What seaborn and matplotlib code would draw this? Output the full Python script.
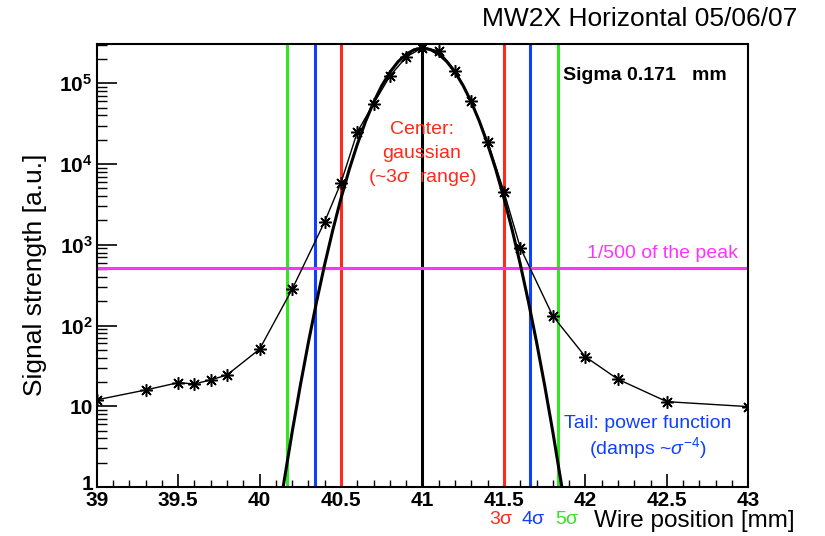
import matplotlib
matplotlib.use("Agg")
import matplotlib.pyplot as plt
import seaborn as sns
from matplotlib.ticker import FixedLocator, MultipleLocator, LogLocator, NullFormatter

# ---------------- data ----------------
wire_pos = [39.0, 39.3, 39.5, 39.6, 39.7, 39.8, 40.0, 40.2, 40.4, 40.5, 40.6, 40.7,
            40.8, 40.9, 41.0, 41.1, 41.2, 41.3, 41.4, 41.5, 41.6, 41.8, 42.0, 42.2,
            42.5, 43.0]
signal = [12.0, 15.9, 19.6, 18.9, 21.2, 24.4, 51, 282, 1940, 5900, 25000, 56000,
          123000, 212000, 276000, 253000, 143000, 59600, 19000, 4550, 925, 131, 41,
          21.6, 11.4, 9.9]

fit_pos = [40.13, 40.15, 40.20, 40.25, 40.30, 40.35, 40.40, 40.45, 40.50, 40.55,
           40.60, 40.65, 40.70, 40.75, 40.80, 40.85, 40.90, 40.95, 41.00, 41.05,
           41.10, 41.15, 41.20, 41.25, 41.30, 41.35, 41.40, 41.45, 41.50, 41.55,
           41.60, 41.65, 41.70, 41.75, 41.80, 41.85, 41.87]
fit_signal = [0.65, 1.17, 4.81, 18.1, 62.5, 198, 577, 1540, 3780, 8530,
              17600, 33500, 58300, 93300, 137000, 185000, 229000, 261000, 272000, 261000,
              229000, 185000, 137000, 93300, 58300, 33500, 17600, 8530, 3780, 1540,
              577, 198, 62.5, 18.1, 4.81, 1.17, 0.65]

center_pos = 41.0
sigma3_pos = [40.50, 41.50]
sigma4_pos = [40.34, 41.66]
sigma5_pos = [40.17, 41.83]
peak_fraction_level = 520

x_ticks = [39, 39.5, 40, 40.5, 41, 41.5, 42, 42.5, 43]
x_tick_labels = ["39", "39.5", "40", "40.5", "41", "41.5", "42", "42.5", "43"]
y_ticks = [1, 10, 100, 1000, 10000, 100000]
y_tick_labels = ["", "10", r"$\mathbf{10^{2}}$", r"$\mathbf{10^{3}}$",
                 r"$\mathbf{10^{4}}$", r"$\mathbf{10^{5}}$"]
y_bottom_label = "1"

# ---------------- style ----------------
sns.set_theme(style="ticks")
plt.rcParams["font.family"] = ["Liberation Sans", "DejaVu Sans"]
plt.rcParams["mathtext.fontset"] = "custom"
plt.rcParams["mathtext.rm"] = "Liberation Sans"
plt.rcParams["mathtext.it"] = "Liberation Sans:italic"
plt.rcParams["mathtext.bf"] = "Liberation Sans:bold"
plt.rcParams["text.color"] = "black"
plt.rcParams["axes.labelcolor"] = "black"
plt.rcParams["xtick.color"] = "black"
plt.rcParams["ytick.color"] = "black"
plt.rcParams["axes.edgecolor"] = "black"

RED = "#ff2a1a"
BLUE = "#1040ff"
GREEN = "#33e622"
MAGENTA = "#ff33ff"

W, H = 825, 536
fig = plt.figure(figsize=(W / 100, H / 100), dpi=100)
ax = fig.add_axes([96.7 / W, 1 - 487 / H, (748.3 - 96.7) / W, (487 - 44.3) / H])
ax.set_yscale("log")

# reference lines
for xv in sigma5_pos:
    ax.axvline(xv, color=GREEN, lw=2.2, zorder=1)
for xv in sigma4_pos:
    ax.axvline(xv, color=BLUE, lw=2.2, zorder=1)
for xv in sigma3_pos:
    ax.axvline(xv, color=RED, lw=2.2, zorder=1)
ax.axvline(center_pos, color="black", lw=2.2, zorder=1)
ax.axhline(peak_fraction_level, color=MAGENTA, lw=2.2, zorder=1)

# fit and data
sns.lineplot(x=fit_pos, y=fit_signal, ax=ax, color="black", linewidth=2.2,
             errorbar=None, zorder=3)
sns.lineplot(x=wire_pos, y=signal, ax=ax, color="black", linewidth=1.0,
             marker=(8, 2, 0), markersize=9, markeredgecolor="black",
             markeredgewidth=1.1, errorbar=None, zorder=4)

ax.set_xlim(39, 43)
ax.set_ylim(1, 3.04e5)

ax.xaxis.set_major_locator(FixedLocator(x_ticks))
ax.set_xticklabels(x_tick_labels)
ax.xaxis.set_minor_locator(MultipleLocator(0.1))
ax.yaxis.set_major_locator(FixedLocator(y_ticks))
ax.set_yticklabels(y_tick_labels)
ax.yaxis.set_minor_locator(LogLocator(base=10, subs=range(2, 10), numticks=20))
ax.yaxis.set_minor_formatter(NullFormatter())

ax.tick_params(which="both", direction="in", top=False, right=False, color="black")
ax.tick_params(axis="y", which="major", length=14.4, width=1.2, labelsize=15, pad=3)
ax.tick_params(axis="y", which="minor", length=7.2, width=1.0)
ax.tick_params(axis="x", which="major", length=9.5, width=1.2, labelsize=15, pad=3)
ax.tick_params(axis="x", which="minor", length=5.0, width=1.0)
for lbl in ax.get_xticklabels() + ax.get_yticklabels():
    lbl.set_fontweight("bold")
    lbl.set_color("black")

for sp in ax.spines.values():
    sp.set_linewidth(1.5)
    sp.set_color("black")
ax.set_xlabel("")
ax.set_ylabel("")
ax.grid(False)


def fx(x):
    return x / W


def fy(y):
    return 1 - y / H


# bottom "1" label of the y axis, lifted a little so it does not sit on "39"
fig.text(fx(93), fy(484), y_bottom_label, ha="right", va="center", fontsize=15,
         fontweight="bold")

fig.text(fx(797), fy(19), "MW2X Horizontal 05/06/07", ha="right", va="center", fontsize=19)
fig.text(fx(35), fy(275), "Signal strength [a.u.]", rotation=90, ha="center", va="center",
         fontsize=19)
fig.text(fx(795), fy(521), "Wire position [mm]", ha="right", va="center", fontsize=17.5)
fig.text(fx(501), fy(520), "3σ", ha="center", va="center", fontsize=14, color=RED)
fig.text(fx(533), fy(520), "4σ", ha="center", va="center", fontsize=14, color=BLUE)
fig.text(fx(567), fy(520), "5σ", ha="center", va="center", fontsize=14, color=GREEN)

fig.text(fx(563), fy(76), "Sigma 0.171   mm", ha="left", va="center", fontsize=14,
         fontweight="bold")
fig.text(fx(422), fy(129), "Center:", ha="center", va="center", fontsize=14, color=RED)
fig.text(fx(422), fy(153), "gaussian", ha="center", va="center", fontsize=14, color=RED)
fig.text(fx(422), fy(177), r"(~3$\sigma$  range)", ha="center", va="center", fontsize=14,
         color=RED)
fig.text(fx(587), fy(253), "1/500 of the peak", ha="left", va="center", fontsize=14,
         color=MAGENTA)
fig.text(fx(648), fy(423), "Tail: power function", ha="center", va="center", fontsize=14,
         color=BLUE)
fig.text(fx(648), fy(448), r"(damps ~$\sigma^{-4}$)", ha="center", va="center", fontsize=14,
         color=BLUE)

fig.savefig("out.png", dpi=100, facecolor="white")
